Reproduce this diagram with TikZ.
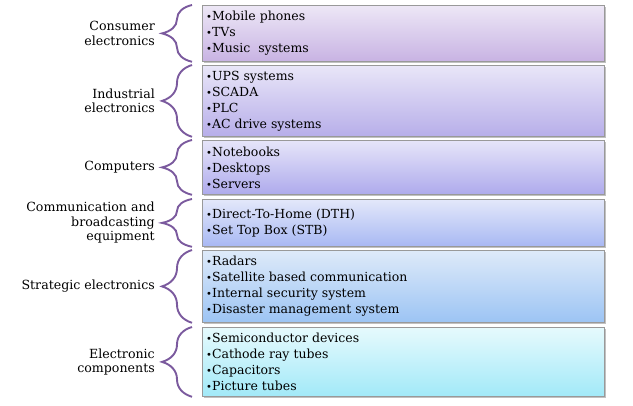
\documentclass[tikz,border=0pt]{standalone}
\usepackage{fontspec}
\setmainfont{DejaVu Serif}
\usetikzlibrary{shadows,decorations.pathreplacing,calc}
\definecolor{bracecol}{HTML}{7B5A9E}
\definecolor{ta}{HTML}{EDE7F6}\definecolor{ba}{HTML}{C8B3E3}
\definecolor{tb}{HTML}{E9E6F8}\definecolor{bb}{HTML}{B7AEE9}
\definecolor{tc}{HTML}{E6E5F9}\definecolor{bc}{HTML}{AEAAEC}
\definecolor{td}{HTML}{E3E8FA}\definecolor{bd}{HTML}{A8B8F3}
\definecolor{te}{HTML}{DEEAF9}\definecolor{be}{HTML}{9CC4F4}
\definecolor{tf}{HTML}{E6FAFD}\definecolor{bf}{HTML}{A2E9F8}
\newcommand\bu{{\fontsize{10}{10}\selectfont •}}
\begin{document}
\begin{tikzpicture}[x=1pt,y=-1pt,
  box/.style={draw=black!40, line width=0.8pt, anchor=north west, minimum width=402pt, inner sep=0pt,
    drop shadow={shadow xshift=1.2pt,shadow yshift=-1.2pt,fill=black!30,opacity=0.8}},
  items/.style={anchor=west, align=left, inner sep=0pt, font=\fontsize{12.5}{16}\selectfont},
  lbl/.style={anchor=east, align=right, inner sep=0pt, font=\fontsize{12.6}{14.5}\selectfont},
  brc/.style={draw=bracecol, line width=1.9pt, decorate, decoration={brace,amplitude=30pt}}]
\useasboundingbox (0,0) rectangle (633,406);
% boxes
\node[box, top color=ta, bottom color=ba, minimum height=56pt] (b1) at (202,5) {};
\node[box, top color=tb, bottom color=bb, minimum height=71pt] (b2) at (202,65) {};
\node[box, top color=tc, bottom color=bc, minimum height=54pt] (b3) at (202,140) {};
\node[box, top color=td, bottom color=bd, minimum height=47pt] (b4) at (202,199) {};
\node[box, top color=te, bottom color=be, minimum height=72pt] (b5) at (202,250) {};
\node[box, top color=tf, bottom color=bf, minimum height=69pt] (b6) at (202,327) {};
% items
\node[items] (i1) at ([xshift=4pt]b1.west) {\bu Mobile phones\\\bu TVs\\\bu Music\ \ systems};
\node[items] (i2) at ([xshift=4pt]b2.west) {\bu UPS systems\\\bu SCADA\\\bu PLC\\\bu AC drive systems};
\node[items] (i3) at ([xshift=4pt]b3.west) {\bu Notebooks\\\bu Desktops\\\bu Servers};
\node[items] (i4) at ([xshift=4pt]b4.west) {\bu Direct-To-Home (DTH)\\\bu Set Top Box (STB)};
\node[items] (i5) at ([xshift=4pt]b5.west) {\bu Radars\\\bu Satellite based communication\\\bu Internal security system\\\bu Disaster management system};
\node[items] (i6) at ([xshift=4pt]b6.west) {\bu Semiconductor devices\\\bu Cathode ray tubes\\\bu Capacitors\\\bu Picture tubes};
% braces
\foreach \b in {b1,b2,b3,b4,b5,b6}{
  \draw[brc] ([xshift=-10pt]\b.south west) -- ([xshift=-10pt]\b.north west);
}
% labels
\node[lbl] (l1) at ([xshift=-47pt]b1.west) {Consumer\\electronics};
\node[lbl] (l2) at ([xshift=-47pt]b2.west) {Industrial\\electronics};
\node[lbl] (l3) at ([xshift=-47pt]b3.west) {Computers};
\node[lbl] (l4) at ([xshift=-47pt]b4.west) {Communication and\\broadcasting\\equipment};
\node[lbl] (l5) at ([xshift=-47pt]b5.west) {Strategic electronics};
\node[lbl] (l6) at ([xshift=-47pt]b6.west) {Electronic\\components};
\end{tikzpicture}
\end{document}
